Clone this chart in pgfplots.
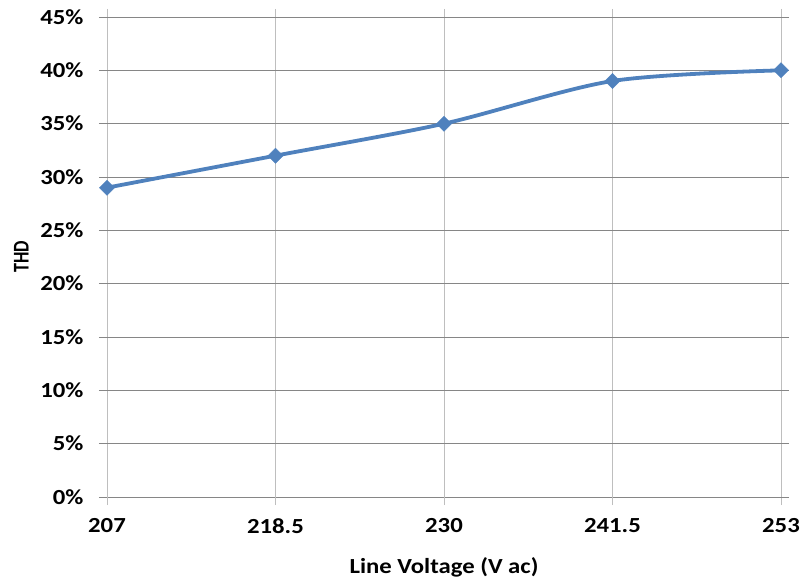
\documentclass[border=0pt]{standalone}
\usepackage{fontspec}
\setmainfont{Carlito}[FakeStretch=1.15]
\usepackage{graphicx}
\usepackage{pgfplots}
\pgfplotsset{compat=1.18}
\definecolor{lineblue}{RGB}{79,129,189}
\definecolor{hgrid}{RGB}{134,134,134}
\definecolor{vgrid}{RGB}{190,190,190}
\begin{document}
\begin{tikzpicture}
\useasboundingbox (-107bp,-88bp) rectangle (699bp,497bp);
\begin{axis}[
  at={(0,0)}, anchor=south west,
  scale only axis, width=674bp, height=480bp,
  xmin=207, xmax=253, ymin=0, ymax=45,
  xtick={207,218.5,230,241.5,253},
  xticklabels={207,218.5,230,241.5,253},
  ytick={0,5,...,45},
  yticklabel={\pgfmathprintnumber{\tick}\%},
  /pgf/number format/assume math mode=true,
  ticklabel style={font=\fontsize{21.5bp}{24bp}\selectfont\bfseries},
  xlabel style={font=\fontsize{21.5bp}{24bp}\selectfont\bfseries, yshift=-17bp},
  xlabel={Line Voltage (V ac)},
  ylabel={\fontsize{22.5bp}{24bp}\selectfont\bfseries\scalebox{0.70}[1]{THD}},
  ylabel shift=5bp,
  axis line style={draw=none},
  tick align=outside,
  major tick length=8bp,
  tick style={color=hgrid, line width=0.8pt},
  xtick style={color=vgrid},
  xmajorgrids, ymajorgrids,
  x grid style={color=vgrid, line width=0.9pt},
  y grid style={color=hgrid, line width=0.9pt},
  xticklabel style={yshift=-10bp},
  yticklabel style={xshift=-12bp},
  clip=false,
]
\addplot[color=lineblue, line width=3.8bp, smooth, tension=0.5,
  mark=square*, mark size=5.4bp, mark options={rotate=45, fill=lineblue, draw=lineblue, line width=0.3pt}]
  coordinates {(207,29) (218.5,32) (230,35) (241.5,39) (253,40)};
\end{axis}
\end{tikzpicture}
\end{document}
